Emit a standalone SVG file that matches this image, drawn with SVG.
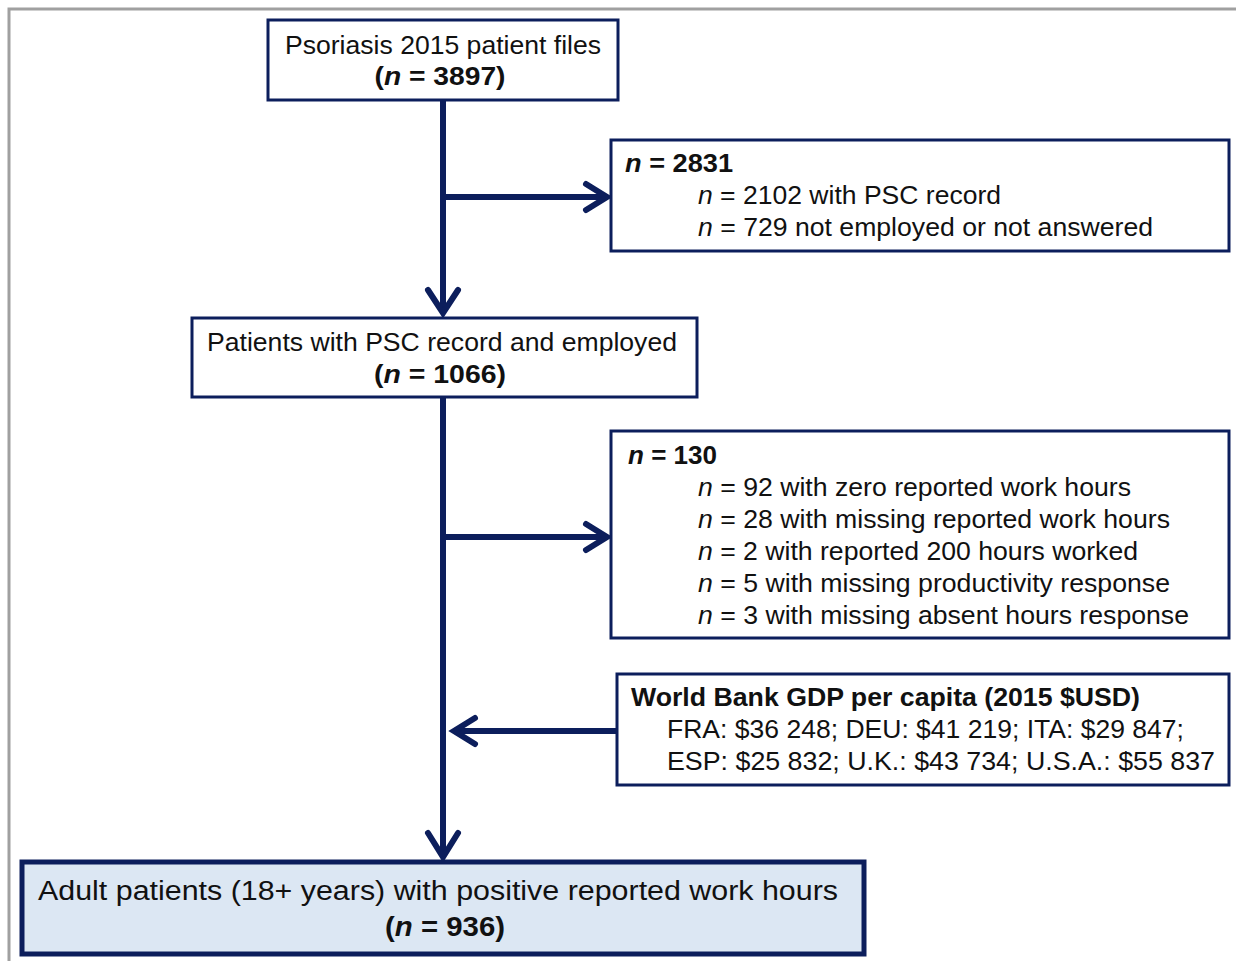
<svg xmlns="http://www.w3.org/2000/svg" width="1236" height="961" viewBox="0 0 1236 961">
<style>
.box{fill:#ffffff;stroke:#0c1e5c;stroke-width:3}
.final{fill:#dce7f3;stroke:#0c1e5c;stroke-width:5}
.t{font-family:"Liberation Sans",Arial,sans-serif;font-size:25px;fill:#111}
.b{font-weight:bold}
.i{font-style:italic}
.ln{stroke:#0c1e5c;stroke-width:6;fill:none}
.ah{stroke:#0c1e5c;stroke-width:6;fill:none;stroke-linecap:round;stroke-linejoin:miter}
</style>
<rect width="1236" height="961" fill="#ffffff"/>
<path d="M9,961 V9 H1236" fill="none" stroke="#a0a0a0" stroke-width="3"/>
<g id="connectors">
<line class="ln" x1="443" y1="100" x2="443" y2="312"/>
<line class="ln" x1="443" y1="197" x2="606" y2="197"/>
<line class="ln" x1="443" y1="397" x2="443" y2="857"/>
<line class="ln" x1="443" y1="537" x2="606" y2="537"/>
<line class="ln" x1="617" y1="731" x2="455" y2="731"/>
<path class="ah" d="M428,290 L443,313 L458,290"/>
<path class="ah" d="M586,184 L607,197 L586,210"/>
<path class="ah" d="M586,524 L607,537 L586,550"/>
<path class="ah" d="M475,718 L454,731 L475,744"/>
<path class="ah" d="M428,833 L443,857 L458,833"/>
</g>
<g id="n1">
<rect class="box" x="268" y="20" width="350" height="80"/>
<text class="t" x="443" y="54" text-anchor="middle" textLength="316" lengthAdjust="spacingAndGlyphs">Psoriasis 2015 patient files</text>
<text class="t b" x="440" y="85" text-anchor="middle" textLength="131" lengthAdjust="spacingAndGlyphs">(<tspan class="i">n</tspan> = 3897)</text>
</g>
<g id="n2">
<rect class="box" x="611" y="140" width="618" height="111"/>
<text class="t b" x="625" y="172" textLength="108" lengthAdjust="spacingAndGlyphs"><tspan class="i">n</tspan> = 2831</text>
<text class="t" x="698" y="204" textLength="303" lengthAdjust="spacingAndGlyphs"><tspan class="i">n</tspan> = 2102 with PSC record</text>
<text class="t" x="698" y="236" textLength="455" lengthAdjust="spacingAndGlyphs"><tspan class="i">n</tspan> = 729 not employed or not answered</text>
</g>
<g id="n3">
<rect class="box" x="192" y="318" width="505" height="79"/>
<text class="t" x="442" y="351" text-anchor="middle" textLength="470" lengthAdjust="spacingAndGlyphs">Patients with PSC record and employed</text>
<text class="t b" x="440" y="383" text-anchor="middle" textLength="132" lengthAdjust="spacingAndGlyphs">(<tspan class="i">n</tspan> = 1066)</text>
</g>
<g id="n4">
<rect class="box" x="611" y="431" width="618" height="207"/>
<text class="t b" x="628" y="464" textLength="89" lengthAdjust="spacingAndGlyphs"><tspan class="i">n</tspan> = 130</text>
<text class="t" x="698" y="496" textLength="433" lengthAdjust="spacingAndGlyphs"><tspan class="i">n</tspan> = 92 with zero reported work hours</text>
<text class="t" x="698" y="528" textLength="472" lengthAdjust="spacingAndGlyphs"><tspan class="i">n</tspan> = 28 with missing reported work hours</text>
<text class="t" x="698" y="560" textLength="440" lengthAdjust="spacingAndGlyphs"><tspan class="i">n</tspan> = 2 with reported 200 hours worked</text>
<text class="t" x="698" y="592" textLength="472" lengthAdjust="spacingAndGlyphs"><tspan class="i">n</tspan> = 5 with missing productivity response</text>
<text class="t" x="698" y="624" textLength="491" lengthAdjust="spacingAndGlyphs"><tspan class="i">n</tspan> = 3 with missing absent hours response</text>
</g>
<g id="n5">
<rect class="box" x="617" y="674" width="612" height="111"/>
<text class="t b" x="631" y="706" textLength="509" lengthAdjust="spacingAndGlyphs">World Bank GDP per capita (2015 $USD)</text>
<text class="t" x="667" y="738" textLength="517" lengthAdjust="spacingAndGlyphs">FRA: $36 248; DEU: $41 219; ITA: $29 847;</text>
<text class="t" x="667" y="770" textLength="548" lengthAdjust="spacingAndGlyphs">ESP: $25 832; U.K.: $43 734; U.S.A.: $55 837</text>
</g>
<g id="n6">
<rect class="final" x="22" y="862" width="842" height="92"/>
<text class="t" x="38" y="900" style="font-size:27px" textLength="800" lengthAdjust="spacingAndGlyphs">Adult patients (18+ years) with positive reported work hours</text>
<text class="t b" x="445" y="936" style="font-size:27px" text-anchor="middle" textLength="120" lengthAdjust="spacingAndGlyphs">(<tspan class="i">n</tspan> = 936)</text>
</g>
</svg>
